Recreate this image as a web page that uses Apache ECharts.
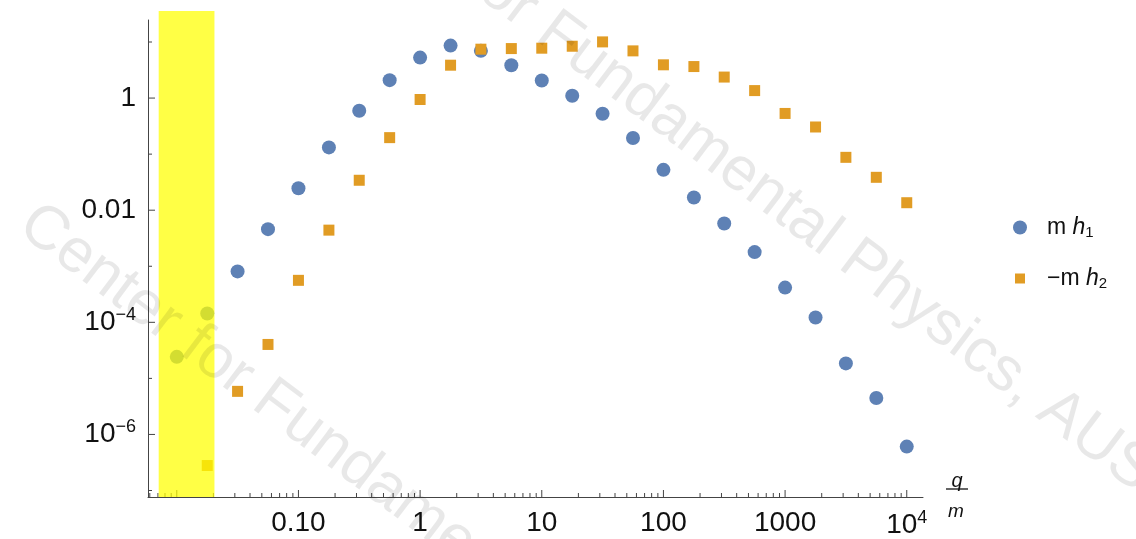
<!DOCTYPE html>
<html>
<head>
<meta charset="utf-8">
<script src="https://cdn.jsdelivr.net/npm/echarts@6/dist/echarts.min.js"></script>
<style>
  html, body { margin: 0; padding: 0; background: #fff; }
  #main { width: 1136px; height: 539px; }
</style>
</head>
<body>
<div id="main"></div>
<script>
// q/m sample points (quarter decades)
const qOverM = [0.01, 0.0178, 0.0316, 0.0562, 0.1, 0.178, 0.316, 0.562, 1, 1.78,
  3.16, 5.62, 10, 17.8, 31.6, 56.2, 100, 178, 316, 562, 1000, 1780, 3160, 5620, 10000];
// m h1
const mh1 = [2.42e-5, 1.44e-4, 8.1e-4, 4.59e-3, 0.0247, 0.132, 0.594, 2.09, 5.27, 8.63,
  6.95, 3.86, 2.06, 1.10, 0.526, 0.194, 0.0524, 0.0168, 5.79e-3, 1.79e-3,
  4.16e-4, 1.22e-4, 1.85e-5, 4.46e-6, 6.07e-7];
// -m h2 (first point below the plot range)
const negMh2 = [null, 2.79e-7, 5.87e-6, 4.03e-5, 5.61e-4, 4.41e-3, 0.0342, 0.197, 0.944, 3.86,
  7.45, 7.64, 7.76, 8.41, 10.05, 6.95, 3.92, 3.65, 2.37, 1.36,
  0.532, 0.305, 0.0877, 0.0386, 0.0136];
// labels keyed by decade exponent
const xTickLabels = { '-1': '0.10', '0': '1', '1': '10', '2': '100', '3': '1000', '4': '10{sup|4}' };
const yTickLabels = { '0': '1', '-2': '0.01', '-4': '10{sup|\u22124}', '-6': '10{sup|\u22126}' };
// highlighted band
const shadeX = [0.0071, 0.0204];
const shadeY = [7.66e-8, 35.7];

const FONT = 'Liberation Sans, Arial, Helvetica, sans-serif';
const AXIS = '#444';

function decade(v) {
  const l = Math.log10(v);
  const r = Math.round(l);
  return Math.abs(l - r) < 1e-6 ? r : null;
}

const chart = echarts.init(document.getElementById('main'));

chart.setOption({
  animation: false,
  backgroundColor: '#fff',
  grid: { left: 148, right: 213, top: 20, bottom: 41 },
  xAxis: {
    type: 'log', logBase: 10, min: 0.0058, max: 13600,
    axisLine: { onZero: false, lineStyle: { color: AXIS, width: 1 } },
    axisTick: { show: false },
    splitLine: { show: false },
    axisLabel: {
      margin: 12, color: '#111', fontFamily: FONT, fontSize: 28,
      formatter: function (v) {
        const d = decade(v);
        return d === null ? '' : (xTickLabels[String(d)] || '');
      },
      rich: { sup: { fontSize: 18, fontFamily: FONT, color: '#111', padding: [0, 0, 14, 0] } }
    }
  },
  yAxis: {
    type: 'log', logBase: 10, min: 7.66e-8, max: 24.7,
    axisLine: { onZero: false, lineStyle: { color: AXIS, width: 1 } },
    axisTick: { show: false },
    splitLine: { show: false },
    axisLabel: {
      margin: 12, color: '#111', fontFamily: FONT, fontSize: 28,
      formatter: function (v) {
        const d = decade(v);
        return d === null ? '' : (yTickLabels[String(d)] || '');
      },
      rich: { sup: { fontSize: 18, fontFamily: FONT, color: '#111', padding: [0, 0, 14, 0] } }
    }
  },
  legend: {
    orient: 'vertical', left: 1013, top: 216, padding: 0,
    itemWidth: 14, itemHeight: 14, itemGap: 27,
    data: [
      { name: 'mh1', icon: 'circle' },
      { name: 'mh2', icon: 'path://M0,0M14,14M2,2L12,2L12,12L2,12Z' }
    ],
    formatter: function (name) {
      return name === 'mh1' ? '{r|m }{i|h}{sub|1}' : '{r|\u2212m }{i|h}{sub|2}';
    },
    textStyle: {
      color: '#111',
      rich: {
        r: { fontSize: 23, fontFamily: FONT, padding: [0, 0, 0, 15] },
        i: { fontSize: 23, fontFamily: FONT, fontStyle: 'italic' },
        sub: { fontSize: 15, fontFamily: FONT, padding: [10, 0, 0, 0] }
      }
    }
  },
  series: [
    {
      name: 'mh1', type: 'scatter', symbol: 'circle', symbolSize: 14,
      itemStyle: { color: '#5e81b5', opacity: 1 },
      data: qOverM.map((x, i) => [x, mh1[i]])
    },
    {
      name: 'mh2', type: 'scatter', symbol: 'rect', symbolSize: 11,
      itemStyle: { color: '#e19c24', opacity: 1 },
      data: qOverM.map((x, i) => [x, negMh2[i]]).filter(p => p[1] !== null)
    }
  ]
});

// ticks, band, axis name and watermark, placed through the axes
const px = v => chart.convertToPixel({ xAxisIndex: 0 }, v);
const py = v => chart.convertToPixel({ yAxisIndex: 0 }, v);
const x0 = px(0.0058), yBase = py(7.66e-8);
const g = [];

for (let k = -3; k <= 4; k++) {
  for (let m = 1; m <= 9; m++) {
    const v = m * Math.pow(10, k);
    if (v < 0.0058 || v > 13600) continue;
    const x = px(v), len = m === 1 ? 7 : 4;
    g.push({ type: 'line', silent: true, z: 5,
      shape: { x1: x, y1: yBase, x2: x, y2: yBase - len },
      style: { stroke: AXIS, lineWidth: 1 } });
  }
}
for (let k = -7; k <= 1; k++) {
  const y = py(Math.pow(10, k)), len = k % 2 === 0 ? 7 : 4;
  g.push({ type: 'line', silent: true, z: 5,
    shape: { x1: x0, y1: y, x2: x0 + len, y2: y },
    style: { stroke: AXIS, lineWidth: 1 } });
}

const bx0 = px(shadeX[0]), bx1 = px(shadeX[1]);
const by0 = py(shadeY[1]), by1 = py(shadeY[0]);
g.push({ type: 'rect', silent: true, z: 10,
  shape: { x: bx0, y: by0, width: bx1 - bx0, height: by1 - by0 },
  style: { fill: 'rgba(255,255,0,0.73)' } });

// axis name q/m
g.push({ type: 'text', silent: true, z: 6, x: 957, y: 481,
  style: { text: 'q', fontSize: 20, fontStyle: 'italic', fontFamily: FONT, fill: '#111', align: 'center', verticalAlign: 'middle' } });
g.push({ type: 'line', silent: true, z: 6, shape: { x1: 946, y1: 489, x2: 968, y2: 489 },
  style: { stroke: '#111', lineWidth: 1.3 } });
g.push({ type: 'text', silent: true, z: 6, x: 956, y: 512,
  style: { text: 'm', fontSize: 19, fontStyle: 'italic', fontFamily: FONT, fill: '#111', align: 'center', verticalAlign: 'middle' } });

// watermark
const wmText = 'Center for Fundamental Physics, AUST';
[[26, 217], [310, -151]].forEach(function (p) {
  g.push({ type: 'text', silent: true, z: 20, x: p[0], y: p[1], rotation: -37 * Math.PI / 180,
    style: { text: wmText, fontSize: 62, fontFamily: FONT, fill: 'rgba(0,0,0,0.09)', align: 'left', verticalAlign: 'middle' } });
});

chart.setOption({ graphic: g });
</script>
</body>
</html>
